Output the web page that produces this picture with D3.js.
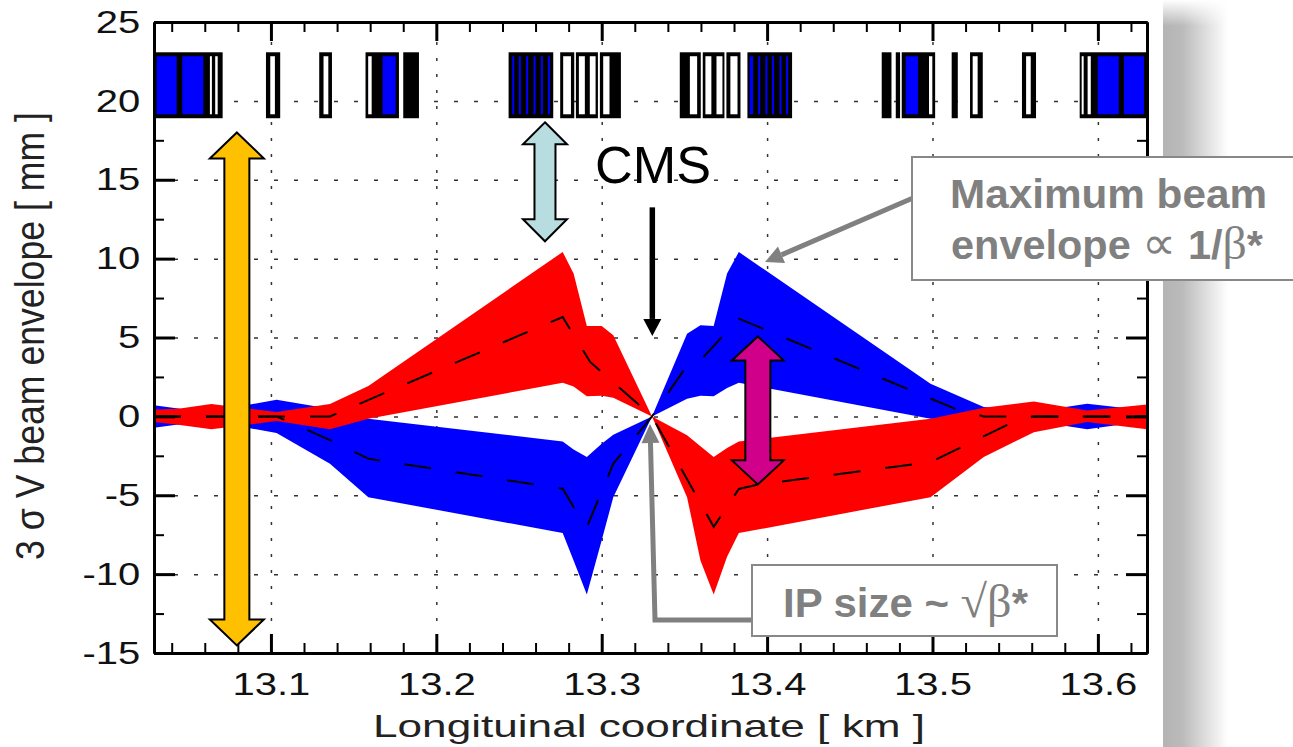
<!DOCTYPE html>
<html>
<head>
<meta charset="utf-8">
<script src="https://cdn.jsdelivr.net/npm/d3@7"></script>
<style>
  html, body { margin: 0; padding: 0; background: #fff; }
  svg { display: block; }
  text { font-family: "Liberation Sans", Arial, sans-serif; }
  .axis path.domain { stroke: #000; stroke-width: 3; }
  .axis .major line { stroke: #000; stroke-width: 3; }
  .axis .minor line { stroke: #000; stroke-width: 2; }
  .axis text { font-size: 32px; fill: #111; }
  .grid line { stroke: #333; stroke-width: 1.5; }
  .grid path { display: none; }
  .soft { filter: blur(0.6px); }
</style>
</head>
<body>
<svg width="1293" height="747"></svg>
<script>
// envelope edges, km / mm
var envS = [13.0293, 13.045, 13.064, 13.1034, 13.1357, 13.1589, 13.2764, 13.283, 13.291, 13.30, 13.307,
  13.3304, 13.3516, 13.3597, 13.3677, 13.3758, 13.3829, 13.4988, 13.531, 13.5613, 13.5935, 13.6297];
var redTop = [0.42, 0.5, 0.78, 0.27, 0.78, 1.92, 10.42, 9.05, 5.73, 5.73, 5.14,
  0, -1.2, -1.9, -2.58, -2.0, -1.59, -0.15, 0.55, 0.95, 0.38, 0.76];
var redBottom = [-0.36, -0.55, -0.82, -0.3, -0.82, -0.15, 2.13, 1.9, 1.27, 1.31, 1.18,
  0, -5.12, -9.13, -11.29, -8.9, -7.4, -5.12, -2.58, -1.0, -0.36, -0.82];
var blueTop = [0.7, 0.49, 0.3, 1.06, 0.49, -0.15, -1.59, -2.1, -2.58, -1.73, -1.16,
  0, 5.24, 5.77, 5.73, 9.05, 10.42, 2.07, 0.6, 0.3, 0.8, 0.38];
var blueBottom = [-0.72, -0.5, -0.3, -1.06, -3.0, -5.12, -7.4, -9.13, -11.29, -7.86, -5.12,
  0, 1.12, 1.31, 1.27, 1.8, 2.13, -0.15, -0.3, -0.3, -0.82, -0.3];

// dashed centre lines
var redDashS = [13.0293, 13.1357, 13.2764, 13.293, 13.3304, 13.3677, 13.3829, 13.394, 13.4988, 13.551, 13.5613, 13.6297];
var redDashV = [0, 0, 6.3, 3.45, 0, -7.0, -4.6, -4.33, -2.9, -0.25, 0, 0];
var blueDashS = [13.0293, 13.1034, 13.1357, 13.1589, 13.2764, 13.283, 13.291, 13.307, 13.3304, 13.3516, 13.3597, 13.3829, 13.515, 13.531, 13.6297];
var blueDashV = [0, 0, -1.5, -2.68, -4.59, -5.75, -7.02, -3.0, 0, 3.23, 3.55, 6.2, 0.42, 0, 0];

// lattice magnets along the top
var magnetTop = 23.08, magnetBottom = 18.9, slotTop = 22.83, slotBottom = 19.15;
var magnetBlocks = [[13.0293, 13.0708], [13.0970, 13.1056], [13.1292, 13.1369], [13.1572, 13.1774], [13.1800, 13.1895],
  [13.2437, 13.2707], [13.2749, 13.2834], [13.2844, 13.2977], [13.2989, 13.3116],
  [13.3472, 13.3599], [13.3611, 13.3742], [13.3754, 13.3839], [13.3881, 13.4151],
  [13.4693, 13.4752], [13.4778, 13.4804], [13.4814, 13.5016], [13.5116, 13.5153], [13.5227, 13.5304], [13.5541, 13.5626], [13.5890, 13.6297]];
var whiteSlots = [[13.0631, 13.0643], [13.0663, 13.0678], [13.0996, 13.1024], [13.1318, 13.1347], [13.1588, 13.1609],
  [13.2767, 13.2814], [13.2862, 13.2898], [13.2928, 13.2963], [13.3009, 13.3047],
  [13.3533, 13.3577], [13.3627, 13.3663], [13.3694, 13.3730], [13.3778, 13.3821],
  [13.4979, 13.4999], [13.5243, 13.5273], [13.5566, 13.5594], [13.5902, 13.5914], [13.5938, 13.5957]];
var blueSlots = [[13.0309, 13.0430], [13.0464, 13.0591], [13.1675, 13.1754],
  [13.2459, 13.2471], [13.2499, 13.2511], [13.2543, 13.2555], [13.2588, 13.2600], [13.2632, 13.2644], [13.2675, 13.2687],
  [13.3895, 13.3915], [13.3946, 13.3958], [13.3990, 13.4002], [13.4030, 13.4042], [13.4075, 13.4087], [13.4115, 13.4127],
  [13.4838, 13.4913], [13.5999, 13.6126], [13.6158, 13.6279]];

var xMajor = [13.1, 13.2, 13.3, 13.4, 13.5, 13.6];
var xMinor = [13.04, 13.06, 13.08, 13.12, 13.14, 13.16, 13.18, 13.22, 13.24, 13.26, 13.28, 13.32, 13.34, 13.36, 13.38,
  13.42, 13.44, 13.46, 13.48, 13.52, 13.54, 13.56, 13.58, 13.62];
var yMajor = [-15, -10, -5, 0, 5, 10, 15, 20, 25];
var yMinor = [-12.5, -7.5, -2.5, 2.5, 7.5, 12.5, 17.5, 22.5];

var svg = d3.select("svg");
var left = 154, right = 1147, top_ = 22, bottom = 653;

var x = d3.scaleLinear().domain([13.0293, 13.6297]).range([left, right]);
var y = d3.scaleLinear().domain([-15, 25]).range([bottom, top_]);

// slide shadow to the right of the plot
var defs = svg.append("defs");
var shade = defs.append("linearGradient").attr("id", "shade");
shade.append("stop").attr("offset", "0").attr("stop-color", "#b4b4b4");
shade.append("stop").attr("offset", "0.3").attr("stop-color", "#bbbbbb");
shade.append("stop").attr("offset", "1").attr("stop-color", "#ffffff");
var fade = defs.append("linearGradient").attr("id", "fade").attr("x2", 0).attr("y2", 1);
fade.append("stop").attr("offset", "0").attr("stop-color", "#fff").attr("stop-opacity", 1);
fade.append("stop").attr("offset", "1").attr("stop-color", "#fff").attr("stop-opacity", 0);
svg.append("rect").attr("x", 1163).attr("y", 0).attr("width", 65).attr("height", 747).attr("fill", "url(#shade)");
svg.append("rect").attr("x", 1163).attr("y", 0).attr("width", 65).attr("height", 26).attr("fill", "url(#fade)");

// grid
svg.append("g").attr("class", "grid").attr("transform", "translate(0," + bottom + ")")
  .call(d3.axisBottom(x).tickValues(xMajor).tickSize(-(bottom - top_)).tickFormat(""))
  .selectAll("line").attr("stroke-dasharray", "3,13");
svg.append("g").attr("class", "grid").attr("transform", "translate(" + left + ",0)")
  .call(d3.axisLeft(y).tickValues(yMajor.slice(1, -1)).tickSize(-(right - left)).tickFormat(""))
  .selectAll("line").attr("stroke-dasharray", "4,16");

// envelopes, blue goes under red
var plot = svg.append("g").attr("class", "soft");
function band(topVals, bottomVals) {
  return d3.area()
    .x(function(d) { return x(d); })
    .y0(function(d, i) { return y(bottomVals[i]); })
    .y1(function(d, i) { return y(topVals[i]); })(envS);
}
plot.append("path").attr("d", band(blueTop, blueBottom)).attr("fill", "#0000ff");
plot.append("path").attr("d", band(redTop, redBottom)).attr("fill", "#ff0000");

var dashLine = d3.line().x(function(d) { return x(d[0]); }).y(function(d) { return y(d[1]); });
[d3.zip(blueDashS, blueDashV), d3.zip(redDashS, redDashV)].forEach(function(pts) {
  plot.append("path").attr("d", dashLine(pts)).attr("fill", "none")
    .attr("stroke", "#000").attr("stroke-width", 2).attr("stroke-dasharray", "27,25");
});

// axes
function addAxis(gen, tx, ty, major, minor, majorLen, minorLen, labels) {
  var g = svg.append("g").attr("class", "axis").attr("transform", "translate(" + tx + "," + ty + ")");
  var a = g.append("g").attr("class", "major").call(
    gen().tickValues(major).tickSize(majorLen).tickSizeOuter(0).tickPadding(13)
      .tickFormat(labels ? function(d) { return String(d); } : ""));
  g.append("g").attr("class", "minor").call(
    gen().tickValues(minor).tickSize(minorLen).tickSizeOuter(0).tickFormat(""));
  return a;
}
var xb = addAxis(function() { return d3.axisBottom(x); }, 0, bottom, xMajor, xMinor, -19, -10, true);
addAxis(function() { return d3.axisTop(x); }, 0, top_, xMajor, xMinor, -19, -10, false);
var yl = addAxis(function() { return d3.axisLeft(y); }, left, 0, yMajor, yMinor, -21, -10, true);
addAxis(function() { return d3.axisRight(y); }, right, 0, yMajor, yMinor, -21, -10, false);

xb.selectAll("text").attr("y", 19).attr("dy", "0.71em").attr("x", 0).attr("transform", "scale(1.25,1)");
yl.selectAll("text").attr("x", -11).attr("transform", "scale(1.25,1)");

svg.append("text").attr("x", 649).attr("y", 737).attr("text-anchor", "middle")
  .attr("font-size", 32).attr("fill", "#222")
  .attr("textLength", 552).attr("lengthAdjust", "spacingAndGlyphs")
  .text("Longituinal coordinate [ km ]");
svg.append("text").attr("transform", "translate(44,336)rotate(-90)").attr("text-anchor", "middle")
  .attr("font-size", 41).attr("fill", "#222")
  .attr("textLength", 448).attr("lengthAdjust", "spacingAndGlyphs")
  .text("3 σ V beam envelope [ mm ]");

// magnets sit on top of the ticks
var magnets = svg.append("g").attr("class", "soft");
function drawRects(data, y1, y2, color) {
  magnets.append("g").selectAll("rect").data(data).enter().append("rect")
    .attr("x", function(d) { return x(d[0]); })
    .attr("width", function(d) { return x(d[1]) - x(d[0]); })
    .attr("y", y(y1))
    .attr("height", y(y2) - y(y1))
    .attr("fill", color);
}
drawRects(magnetBlocks, magnetTop, magnetBottom, "#000");
drawRects(whiteSlots, slotTop, slotBottom, "#fff");
drawRects(blueSlots, slotTop, slotBottom, "#0000ff");

// double arrows, km / mm
var spans = [
  { s: 13.0794, hi: 18.0, lo: -14.52, fill: "#ffc000", shaft: 12.5, head: 27, len: 26 },
  { s: 13.2657, hi: 18.64, lo: 11.1, fill: "#b7dde0", shaft: 10.5, head: 22, len: 22 },
  { s: 13.3944, hi: 5.07, lo: -4.31, fill: "#d0008a", shaft: 12.5, head: 26, len: 24 }
];
spans.forEach(function(a) {
  var c = x(a.s), t = y(a.hi), b = y(a.lo);
  var p = [[c, t], [c + a.head, t + a.len], [c + a.shaft, t + a.len], [c + a.shaft, b - a.len], [c + a.head, b - a.len], [c, b],
    [c - a.head, b - a.len], [c - a.shaft, b - a.len], [c - a.shaft, t + a.len], [c - a.head, t + a.len]];
  svg.append("polygon").attr("points", p.join(" ")).attr("fill", a.fill)
    .attr("stroke", "#000").attr("stroke-width", 2);
});

// single arrows with a filled head
function pointer(points, color, w, headW, headL) {
  var n = points.length, tip = points[n - 1], from = points[n - 2];
  var dx = tip[0] - from[0], dy = tip[1] - from[1], l = Math.sqrt(dx * dx + dy * dy);
  var ux = dx / l, uy = dy / l;
  var bx = tip[0] - ux * headL, by = tip[1] - uy * headL;
  var line = points.slice(0, n - 1).concat([[bx, by]]);
  svg.append("path").attr("d", d3.line()(line)).attr("fill", "none").attr("stroke", color).attr("stroke-width", w);
  svg.append("polygon").attr("fill", color).attr("points",
    [tip, [bx - uy * headW, by + ux * headW], [bx + uy * headW, by - ux * headW]].join(" "));
}
pointer([[x(13.3306), y(13.25)], [x(13.3306), y(5.1)]], "#000", 5.5, 9, 17);
pointer([[913, 198], [765, 262]], "#808080", 5, 9, 18);
pointer([[752, 620], [655, 620], [650, 424]], "#808080", 5, 9, 19);

// callout boxes
svg.append("rect").attr("x", 912).attr("y", 157).attr("width", 400).attr("height", 123)
  .attr("fill", "#fff").attr("stroke", "#888").attr("stroke-width", 2);
svg.append("rect").attr("x", 752).attr("y", 565).attr("width", 305).attr("height", 71)
  .attr("fill", "#fff").attr("stroke", "#888").attr("stroke-width", 2);

svg.append("text").attr("x", 595).attr("y", 183).attr("font-size", 52).attr("fill", "#000")
  .attr("textLength", 116).attr("lengthAdjust", "spacingAndGlyphs").text("CMS");

function calloutText(px, py, len, parts) {
  var t = svg.append("text").attr("x", px).attr("y", py).attr("font-size", 40).attr("fill", "#808080")
    .attr("textLength", len).attr("lengthAdjust", "spacingAndGlyphs");
  parts.forEach(function(p) {
    t.append("tspan").attr("font-weight", p[1] ? "bold" : "normal")
      .attr("font-size", p[1] ? null : 46)
      .attr("font-family", p[1] ? null : "'Liberation Serif', serif").text(p[0]);
  });
}
calloutText(950, 208, 317, [["Maximum beam", true]]);
calloutText(951, 259, 312, [["envelope ", true], ["∝", false], [" 1/", true], ["β", false], ["*", true]]);
calloutText(783, 617, 245, [["IP size ~ ", true], ["√β", false], ["*", true]]);
</script>
</body>
</html>
